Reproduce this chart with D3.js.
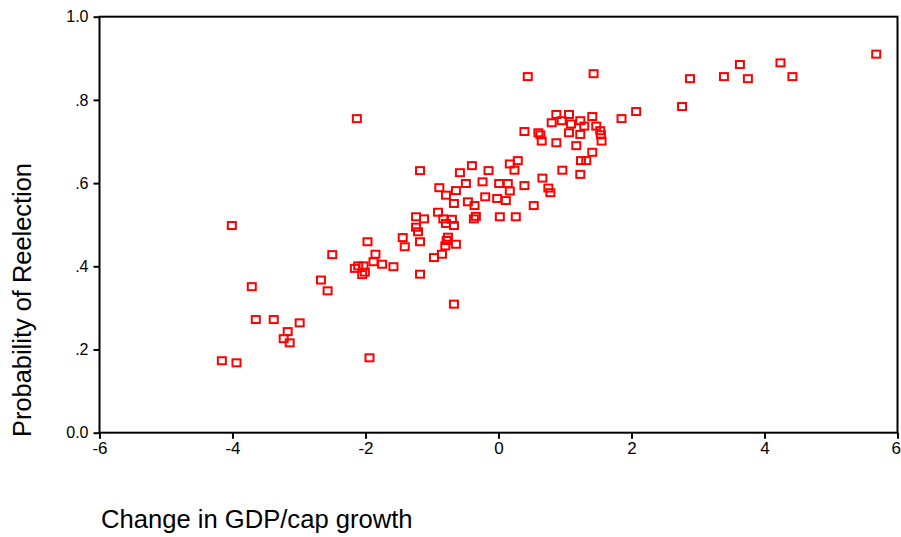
<!DOCTYPE html>
<html>
<head>
<meta charset="utf-8">
<script src="https://cdn.jsdelivr.net/npm/d3@7"></script>
<style>
  html, body { margin: 0; padding: 0; background: #fff; }
  svg { display: block; }
  text { font-family: "Liberation Sans", Arial, sans-serif; fill: #000; }
</style>
</head>
<body>
<script>
// Change in GDP per capita growth (percentage points)
const gdpChange = [
  5.68, 4.24, 3.63, 4.42, 3.75, 3.39, 2.88, 2.76, 2.07, 1.85, 0.44, 1.43,
  0.87, 1.06, 0.80, 0.95, 1.09, 1.23, 1.41, 1.29, 1.47, 1.53, 1.54, 1.55,
  0.39, 0.60, 0.63, 0.65, 0.87, 1.06, 1.23, 1.17, 1.41, 1.24, 1.32, 1.23,
  0.96, 0.66, 0.75, 0.78, 0.53, 0.17, 0.29, 0.24,
  -1.18, -0.58, -0.40, -0.15, -0.89, -0.79, -0.64, -0.49, -0.24, 0.01, 0.14, 0.17,
  0.39, -0.20, -0.02, 0.11, -0.67, -0.46, -0.36, -0.91, -1.24, -1.12, -0.83, -0.70,
  -0.79, -0.67, -0.37, -0.34, 0.02, 0.26, -1.24, -1.21, -0.76, -0.78, -0.80, -0.64,
  -0.85, -0.97, -1.18, -1.44, -1.41, -1.18, -0.67,
  -1.97, -1.85, -1.88, -1.75, -1.58, -2.16, -2.11, -2.03, -2.05, -2.01, -2.50, -2.67,
  -2.57, -4.01, -3.71, -3.65, -3.38, -2.99, -3.17, -3.23, -3.14, -4.16, -3.94, -1.94,
  -2.13
];

// Probability of reelection
const reelectProb = [
  0.910, 0.889, 0.885, 0.856, 0.851, 0.856, 0.851, 0.784, 0.772, 0.755, 0.856, 0.863,
  0.765, 0.765, 0.745, 0.750, 0.742, 0.750, 0.760, 0.737, 0.737, 0.726, 0.716, 0.701,
  0.724, 0.721, 0.716, 0.701, 0.697, 0.721, 0.717, 0.690, 0.674, 0.654, 0.654, 0.621,
  0.631, 0.612, 0.588, 0.577, 0.546, 0.646, 0.654, 0.631,
  0.630, 0.625, 0.642, 0.630, 0.589, 0.571, 0.582, 0.599, 0.603, 0.599, 0.599, 0.581,
  0.594, 0.567, 0.563, 0.558, 0.551, 0.555, 0.546, 0.530, 0.519, 0.514, 0.514, 0.513,
  0.503, 0.498, 0.514, 0.520, 0.519, 0.519, 0.494, 0.483, 0.470, 0.462, 0.449, 0.453,
  0.429, 0.421, 0.459, 0.469, 0.447, 0.381, 0.309,
  0.459, 0.429, 0.411, 0.405, 0.399, 0.395, 0.401, 0.401, 0.380, 0.386, 0.428, 0.367,
  0.341, 0.498, 0.351, 0.272, 0.272, 0.264, 0.243, 0.226, 0.216, 0.173, 0.168, 0.180,
  0.755
];

const xTicks = [-6, -4, -2, 0, 2, 4, 6];
const yTicks = [0, 0.2, 0.4, 0.6, 0.8, 1.0];
const yTickLabels = ["0.0", ".2", ".4", ".6", ".8", "1.0"];

const xTitle = "Change in GDP/cap growth";
const yTitle = "Probability of Reelection";

const W = 901, H = 537;
const plot = { left: 99.5, right: 897.5, top: 16.7, bottom: 432.7 };

const svg = d3.select("body").append("svg")
  .attr("width", W).attr("height", H);

const x = d3.scaleLinear().domain([-6, 6]).range([plot.left, plot.right]);
const y = d3.scaleLinear().domain([0, 1]).range([plot.bottom, plot.top]);

// Frame around the plotting region
svg.append("rect")
  .attr("x", plot.left).attr("y", plot.top)
  .attr("width", plot.right - plot.left).attr("height", plot.bottom - plot.top)
  .attr("fill", "none").attr("stroke", "#000").attr("stroke-width", 2);

// Bottom axis
const gx = svg.append("g")
  .attr("transform", `translate(0,${plot.bottom})`)
  .call(d3.axisBottom(x).tickValues(xTicks).tickFormat(d3.format("d"))
    .tickSize(6).tickSizeOuter(0).tickPadding(3));
gx.select(".domain").remove();
gx.selectAll(".tick line").attr("stroke", "#000").attr("stroke-width", 2);
gx.selectAll(".tick text")
  .attr("font-size", 17)
  .style("font-family", "'Liberation Sans', Arial, sans-serif")
  .text(d => d < 0 ? "-" + Math.abs(d) : String(d));
// keep the last label inside the page edge
gx.selectAll(".tick text")
  .filter(d => d === xTicks[xTicks.length - 1])
  .attr("text-anchor", "end")
  .attr("x", W - plot.right - 0.5);

// Left axis
const gy = svg.append("g")
  .attr("transform", `translate(${plot.left},0)`)
  .call(d3.axisLeft(y).tickValues(yTicks)
    .tickFormat((d, i) => yTickLabels[i])
    .tickSize(6).tickSizeOuter(0).tickPadding(5));
gy.select(".domain").remove();
gy.selectAll(".tick line").attr("stroke", "#000").attr("stroke-width", 2);
gy.selectAll(".tick text")
  .attr("font-size", 16)
  .style("font-family", "'Liberation Sans', Arial, sans-serif");

// Axis titles
svg.append("text")
  .attr("x", 101).attr("y", 528)
  .attr("font-size", 25.6)
  .text(xTitle);

svg.append("text")
  .attr("transform", `translate(31,300) rotate(-90)`)
  .attr("text-anchor", "middle")
  .attr("font-size", 25.4)
  .text(yTitle);

// Observations as hollow red squares
const pts = gdpChange.map((v, i) => ({ gx: v, py: reelectProb[i] }));
svg.append("g")
  .selectAll("rect")
  .data(pts)
  .join("rect")
  .attr("x", d => x(d.gx) - 4)
  .attr("y", d => y(d.py) - 3.5)
  .attr("width", 8)
  .attr("height", 7)
  .attr("fill", "none")
  .attr("stroke", "#ff0000")
  .attr("stroke-width", 2);
</script>
</body>
</html>
